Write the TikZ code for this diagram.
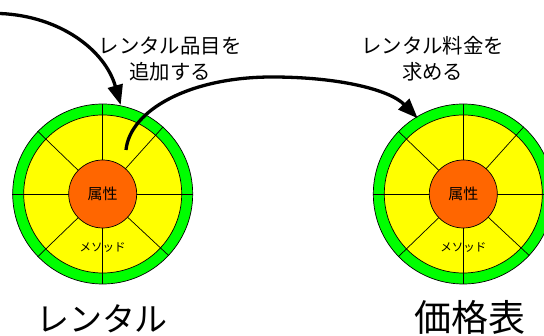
\documentclass[tikz,border=0pt]{standalone}
\usepackage{fontspec}
\setmainfont{Noto Sans CJK JP}
\usetikzlibrary{arrows.meta}
\definecolor{ringgreen}{RGB}{0,255,0}
\definecolor{bodyyellow}{RGB}{255,255,0}
\definecolor{coreorange}{RGB}{255,102,0}
\newcommand{\objwheel}[3]{%
  \node[ringnode,minimum size=180pt] (#1ring) at (#2,#3) {};
  \foreach \a in {0,48,90,136,180,224,270,317}
    \draw[spoke] (#1ring.center) -- (#1ring.\a);
  \node[yellownode,minimum size=158pt] (#1body) at (#2,#3) {};
  \foreach \a in {0,48,90,136,180,224,270,317}
    \draw[spoke] (#1ring.center) -- (#1body.\a);
  \node[corenode,minimum size=68pt] (#1core) at (#2,#3) {\fontsize{15}{15}\selectfont 属性};
  \node[methodtext] (#1method) at (#2,#3+54) {メソッド};
}
\tikzset{
  x=1pt,y=-1pt,
  ringnode/.style={circle,draw=black,line width=0.7pt,fill=ringgreen,inner sep=0pt},
  yellownode/.style={circle,draw=black,line width=0.7pt,fill=bodyyellow,inner sep=0pt},
  corenode/.style={circle,draw=black,line width=0.7pt,fill=coreorange,inner sep=0pt},
  spoke/.style={draw=black,line width=0.7pt},
  methodtext/.style={inner sep=0pt,font=\fontsize{11.5}{12}\selectfont},
  label/.style={inner sep=0pt,font=\fontsize{20.4}{26}\selectfont,align=center},
  title/.style={inner sep=0pt},
  flow/.style={draw=black,line width=3.3pt,-{Triangle[length=20pt,width=15pt]}},
}
\begin{document}
\begin{tikzpicture}
\useasboundingbox (0,0) rectangle (544,336);
\objwheel{a}{102.7}{194}
\objwheel{b}{463.3}{194}
\node[label] (lab1) at (170,59) {レンタル品目を\\追加する};
\node[label] (lab2) at (432.7,59) {レンタル料金を\\求める};
\node[title,font=\fontsize{33}{33}\selectfont] (t1) at (102,319) {レンタル};
\node[title,font=\fontsize{37}{37}\selectfont] (t2) at (470,317) {価格表};
\coordinate (s1) at (0,13.5);
\coordinate (e1) at (120.7,105);
\coordinate (s2) at (126,150);
\coordinate (m2) at (272,77);
\coordinate (e2) at (417.7,118.3);
\draw[flow] (s1) .. controls (60,16) and (105,50) .. (e1);
\draw[flow] (s2) .. controls (130,110) and (190,77) .. (m2) .. controls (340,77) and (390,90) .. (e2);
\end{tikzpicture}
\end{document}
